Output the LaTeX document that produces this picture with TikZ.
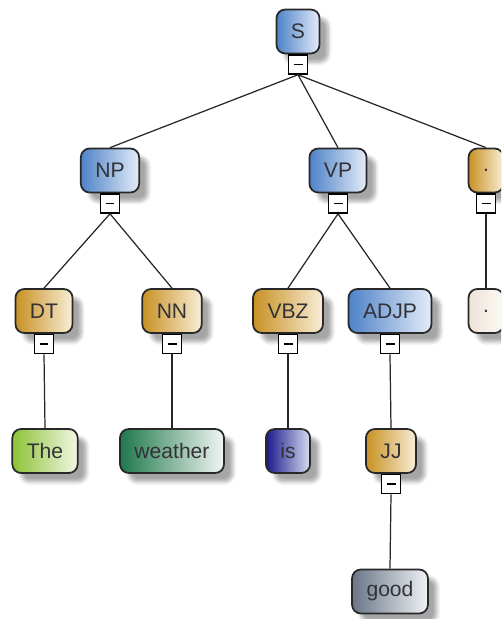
\documentclass[tikz,border=0pt]{standalone}
\usepackage{fontspec}
\setmainfont{Liberation Sans}
\usetikzlibrary{shadows.blur}

\definecolor{tagline}{RGB}{40,40,40}
\definecolor{tagtext}{RGB}{50,50,55}
\definecolor{phraseL}{RGB}{78,130,200}
\definecolor{phraseR}{RGB}{228,236,248}
\definecolor{posL}{RGB}{200,145,35}
\definecolor{posR}{RGB}{248,238,215}
\definecolor{dotL}{RGB}{238,226,214}
\definecolor{dotR}{RGB}{252,250,247}
\definecolor{theL}{RGB}{140,195,55}
\definecolor{theR}{RGB}{242,246,228}
\definecolor{weatherL}{RGB}{30,120,75}
\definecolor{weatherR}{RGB}{242,246,244}
\definecolor{isL}{RGB}{25,25,140}
\definecolor{isR}{RGB}{215,220,240}
\definecolor{goodL}{RGB}{105,118,135}
\definecolor{goodR}{RGB}{240,242,245}

\begin{document}
\begin{tikzpicture}[x=0.02cm, y=-0.02cm,
  tag/.style={draw=tagline, line width=1pt, rounded corners=5pt,
    minimum height=0.88cm, inner xsep=0.29cm, text=tagtext,
    font=\fontsize{12}{14}\selectfont,
    blur shadow={shadow xshift=5pt, shadow yshift=-5pt, shadow blur steps=6, shadow opacity=35}},
  phrase/.style={tag, left color=phraseL, right color=phraseR},
  wordtag/.style={tag, left color=posL, right color=posR},
  fold/.style={draw=black, fill=white, line width=0.8pt, anchor=north,
    minimum width=0.38cm, minimum height=0.38cm, inner sep=0pt,
    path picture={\draw[line width=1pt] ([xshift=-0.09cm]path picture bounding box.center) -- ([xshift=0.09cm]path picture bounding box.center);}},
  branch/.style={line width=0.7pt, draw=black!85}]
\useasboundingbox (0,0) rectangle (501,619);
\clip (0,0) rectangle (501,619);

\node[phrase] (S) at (298,31.5) {S};
\node[phrase] (NP) at (110,170.5) {NP};
\node[phrase] (VP) at (338,170.5) {VP};
\node[wordtag] (dotA) at (486,170.5) {.};
\node[wordtag] (DT) at (44,311) {DT};
\node[wordtag] (NN) at (172,311) {NN};
\node[wordtag] (VBZ) at (288,311) {VBZ};
\node[phrase] (ADJP) at (390,311) {ADJP};
\node[tag, left color=dotL, right color=dotR] (dotB) at (486,311) {.};
\node[tag, left color=theL, right color=theR] (The) at (45,451) {The};
\node[tag, left color=weatherL, right color=weatherR] (weather) at (172,451) {weather};
\node[tag, left color=isL, right color=isR] (is) at (288,451) {is};
\node[wordtag] (JJ) at (391,451) {JJ};
\node[tag, left color=goodL, right color=goodR] (good) at (390,591.5) {good};

\node[fold] (Sf) at (S.south) {};
\node[fold] (NPf) at (NP.south) {};
\node[fold] (VPf) at (VP.south) {};
\node[fold] (dotAf) at (dotA.south) {};
\node[fold] (DTf) at (DT.south) {};
\node[fold] (NNf) at (NN.south) {};
\node[fold] (VBZf) at (VBZ.south) {};
\node[fold] (ADJPf) at (ADJP.south) {};
\node[fold] (JJf) at (JJ.south) {};

\draw[branch] (Sf.south) -- (NP.north);
\draw[branch] (Sf.south) -- (VP.north);
\draw[branch] (Sf.south) -- (dotA.north);
\draw[branch] (NPf.south) -- (DT.north);
\draw[branch] (NPf.south) -- (NN.north);
\draw[branch] (VPf.south) -- (VBZ.north);
\draw[branch] (VPf.south) -- (ADJP.north);
\draw[branch] (dotAf.south) -- (dotB.north);
\draw[branch] (DTf.south) -- (The.north);
\draw[branch] (NNf.south) -- (weather.north);
\draw[branch] (VBZf.south) -- (is.north);
\draw[branch] (ADJPf.south) -- (JJ.north);
\draw[branch] (JJf.south) -- (good.north);
\end{tikzpicture}
\end{document}
